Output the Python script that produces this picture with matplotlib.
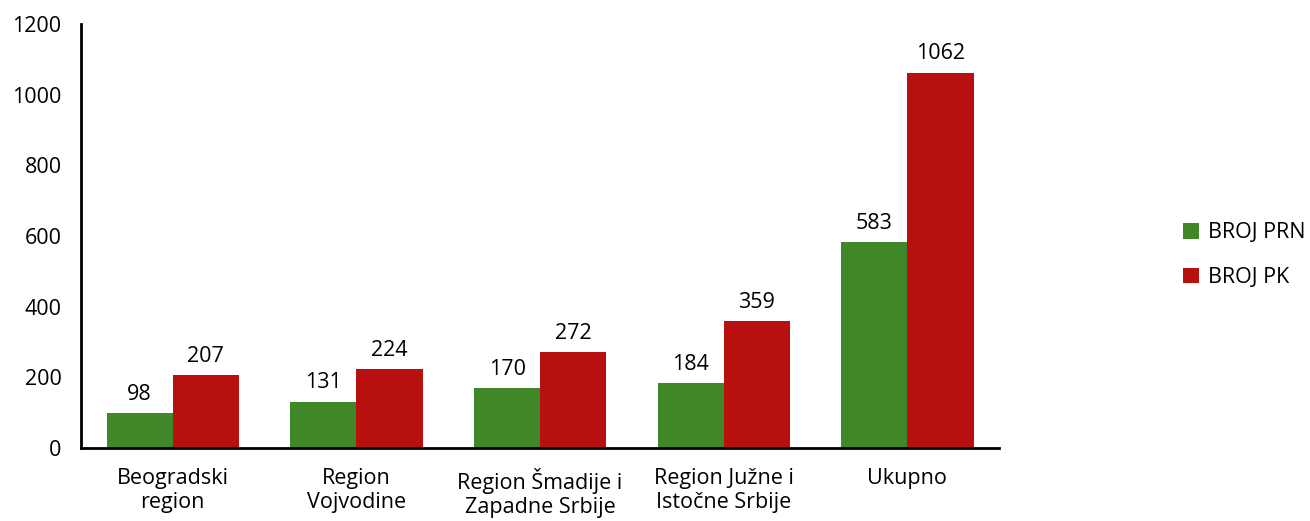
import matplotlib
matplotlib.use("Agg")
import matplotlib.pyplot as plt
import numpy as np

categories = ["Beogradski\nregion", "Region\nVojvodine", "Region Šmadije i\nZapadne Srbije",
              "Region Južne i\nIstočne Srbije", "Ukupno"]
series_names = ["BROJ PRN", "BROJ PK"]
prn = [98, 131, 170, 184, 583]
pk = [207, 224, 272, 359, 1062]
yticks = [0, 200, 400, 600, 800, 1000, 1200]

colors = ["#40872a", "#b80f0f"]
plt.rcParams['font.family'] = ['Open Sans', 'DejaVu Sans']
FS = 15.5

fig = plt.figure(figsize=(13.1, 5.21), dpi=100)
ax = fig.add_axes([0.0618, 0.140, 0.701, 0.814])
x = np.arange(len(categories))
w = 0.36
b1 = ax.bar(x - w/2, prn, w, color=colors[0], label=series_names[0])
b2 = ax.bar(x + w/2, pk, w, color=colors[1], label=series_names[1])
for bars, vals in ((b1, prn), (b2, pk)):
    for r, v in zip(bars, vals):
        ax.annotate(str(v), (r.get_x() + r.get_width()/2, v), xytext=(0, 6),
                    textcoords="offset points", ha="center", va="bottom", fontsize=FS)
ax.set_xlim(-0.5, 4.5)
ax.set_ylim(0, 1200)
ax.set_yticks(yticks)
ax.set_xticks(x)
ax.set_xticklabels(categories, fontsize=FS, linespacing=1.2)
ax.tick_params(axis='y', labelsize=FS, length=0, pad=14)
ax.tick_params(axis='x', length=0, pad=14)
for s in ["top", "right"]:
    ax.spines[s].set_visible(False)
for s in ["left", "bottom"]:
    ax.spines[s].set_linewidth(2)
ax.legend(loc="center left", bbox_to_anchor=(1.2, 0.455), frameon=False, fontsize=FS,
          handlelength=0.75, handleheight=0.75, handletextpad=0.4, labelspacing=1.1,
          borderaxespad=0, borderpad=0)
fig.savefig("out.png", dpi=100)
